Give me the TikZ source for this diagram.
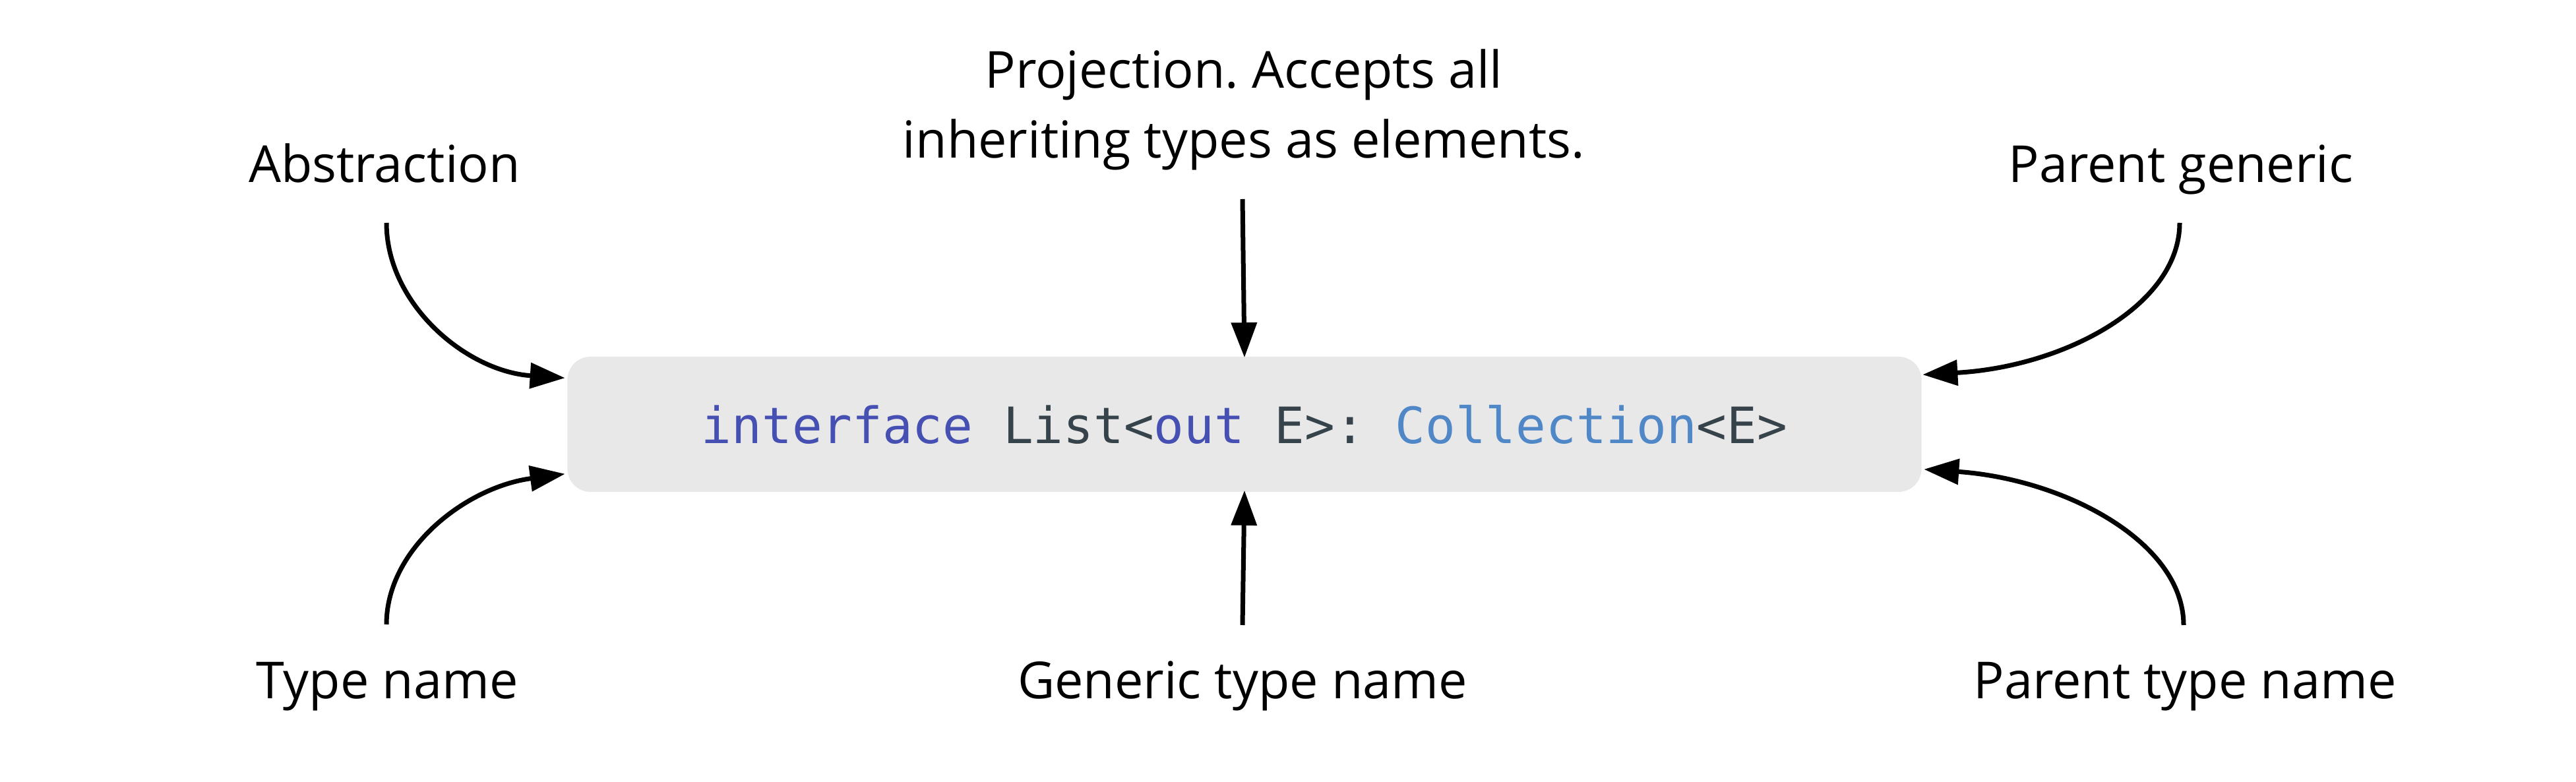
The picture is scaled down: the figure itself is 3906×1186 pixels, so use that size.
\documentclass[tikz,border=0pt]{standalone}
\usepackage{fontspec}
\setmainfont{Open Sans}
\setmonofont{DejaVu Sans Mono}
\usetikzlibrary{arrows.meta,calc}
\definecolor{boxgray}{HTML}{E8E8E8}
\definecolor{kw}{HTML}{4550B2}
\definecolor{plain}{HTML}{37434B}
\definecolor{tp}{HTML}{4F87C7}
\frenchspacing
\begin{document}
\begin{tikzpicture}[x=0.01cm,y=-0.01cm,
  lbl/.style={font=\fontsize{22pt}{30.2pt}\selectfont, inner sep=0pt, anchor=base, align=center},
  conn/.style={line width=0.07cm, -{Triangle[length=0.53cm,width=0.38cm]}},
  codebox/.style={fill=boxgray, rounded corners=0.35cm, minimum width=20.52cm, minimum height=2.05cm, inner sep=0pt}]
\useasboundingbox (0,0) rectangle (3906,1186);
\node[codebox] (box) at (1887,643.5) {};
\node[font=\ttfamily\fontsize{21.6pt}{26pt}\selectfont, anchor=base, inner sep=0pt] (code) at (1887,673)
  {\textcolor{kw}{interface} \textcolor{plain}{List<}\textcolor{kw}{out} \textcolor{plain}{E>:} \textcolor{tp}{Collection}\textcolor{plain}{<E>}};
\node[lbl] (abs) at (583,277) {Abstraction};
\node[lbl] (proj) at (1886,240) {Projection.\ Accepts all\\inheriting types as elements.};
\node[lbl] (pg) at (3307,277) {Parent generic};
\node[lbl] (tn) at (587,1059) {Type name};
\node[lbl] (gtn) at (1884,1059) {Generic type name};
\node[lbl] (ptn) at (3313,1059) {Parent type name};
% start / end coordinates
\coordinate (absS) at ($(abs.base)+(3,61)$);
\coordinate (absT) at ($(box.north west)+(-3,33)$);
\coordinate (tnS) at ($(tn.base)+(-1,-112)$);
\coordinate (tnT) at ($(box.south west)+(-3,-28)$);
\coordinate (pgS) at ($(pg.base)+(-2,61)$);
\coordinate (pgT) at ($(box.north east)+(1,28)$);
\coordinate (ptnS) at ($(ptn.base)+(-2,-111)$);
\coordinate (ptnT) at ($(box.south east)+(3,-35)$);
\coordinate (projS) at ($(proj.base)+(-2,62)$);
\coordinate (projT) at ($(box.north)+(0,2)$);
\coordinate (gtnS) at ($(gtn.base)+(0,-111)$);
\coordinate (gtnT) at ($(box.south)+(0,-3)$);
% connectors
\draw[conn] (absS) .. controls ($(absS)+(0,123)$) and ($(absT)+(-150,-10)$) .. (absT);
\draw[conn] (tnS) .. controls ($(tnS)+(0,-115)$) and ($(tnT)+(-150,20)$) .. (tnT);
\draw[conn] (pgS) .. controls ($(pgS)+(0,125)$) and ($(pgT)+(215,-12)$) .. (pgT);
\draw[conn] (ptnS) .. controls ($(ptnS)+(0,-125)$) and ($(ptnT)+(215,15)$) .. (ptnT);
\draw[conn] (projS) -- (projT);
\draw[conn] (gtnS) -- (gtnT);
\end{tikzpicture}
\end{document}
